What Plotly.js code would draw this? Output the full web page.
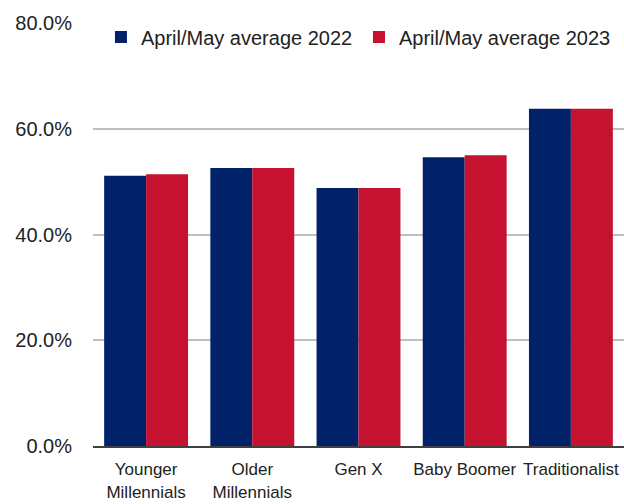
<!DOCTYPE html>
<html>
<head>
<meta charset="utf-8">
<script src="https://cdn.plot.ly/plotly-3.0.1.min.js"></script>
<style>
  html, body { margin: 0; padding: 0; background: #fff; }
  #gd { width: 624px; height: 504px; }
</style>
</head>
<body>
<div id="gd"></div>
<script>
// generations on the x axis
var categories = ["Younger<br>Millennials", "Older<br>Millennials", "Gen X", "Baby Boomer", "Traditionalist"];

// percent values
var avg2022 = [51.1, 52.6, 48.8, 54.6, 63.8];
var avg2023 = [51.4, 52.6, 48.8, 55.0, 63.8];

var seriesNames = ["April/May average 2022", "April/May average 2023"];

var yTicks = [0, 20, 40, 60, 80];
var yTickText = ["0.0%", "20.0%", "40.0%", "60.0%", "80.0%"];

var font = "Liberation Sans, Arial, sans-serif";

var traces = [
  {
    type: "bar",
    name: seriesNames[0],
    x: categories,
    y: avg2022,
    marker: { color: "#012169" },
    hoverinfo: "skip"
  },
  {
    type: "bar",
    name: seriesNames[1],
    x: categories,
    y: avg2023,
    marker: { color: "#C41230" },
    hoverinfo: "skip"
  }
];

var layout = {
  width: 624,
  height: 504,
  margin: { l: 93, r: 0, t: 23, b: 58, pad: 0 },
  paper_bgcolor: "#fff",
  plot_bgcolor: "#fff",
  font: { family: font, size: 17, color: "#222" },
  barmode: "group",
  bargap: 0.21,
  bargroupgap: 0,
  showlegend: true,
  legend: {
    orientation: "h",
    x: 0.015,
    xanchor: "left",
    y: 0.967,
    yanchor: "middle",
    font: { family: font, size: 20, color: "#222" },
    itemwidth: 30,
    entrywidth: 213,
    entrywidthmode: "pixels",
    tracegroupgap: 0,
    bgcolor: "rgba(0,0,0,0)"
  },
  xaxis: {
    showgrid: false,
    showline: true,
    linecolor: "#404040",
    linewidth: 2,
    ticks: "",
    tickangle: 0,
    ticklabelstandoff: 7,
    tickfont: { family: font, size: 17, color: "#222" },
    automargin: false
  },
  yaxis: {
    range: [0, 80],
    tickvals: yTicks,
    ticktext: yTickText,
    showgrid: true,
    gridcolor: "#bfbfbf",
    gridwidth: 2,
    zeroline: false,
    showline: false,
    ticks: "",
    ticklabelstandoff: 20,
    tickfont: { family: font, size: 20, color: "#222" },
    automargin: false
  }
};

Plotly.newPlot("gd", traces, layout, { staticPlot: true, displayModeBar: false });
</script>
</body>
</html>
